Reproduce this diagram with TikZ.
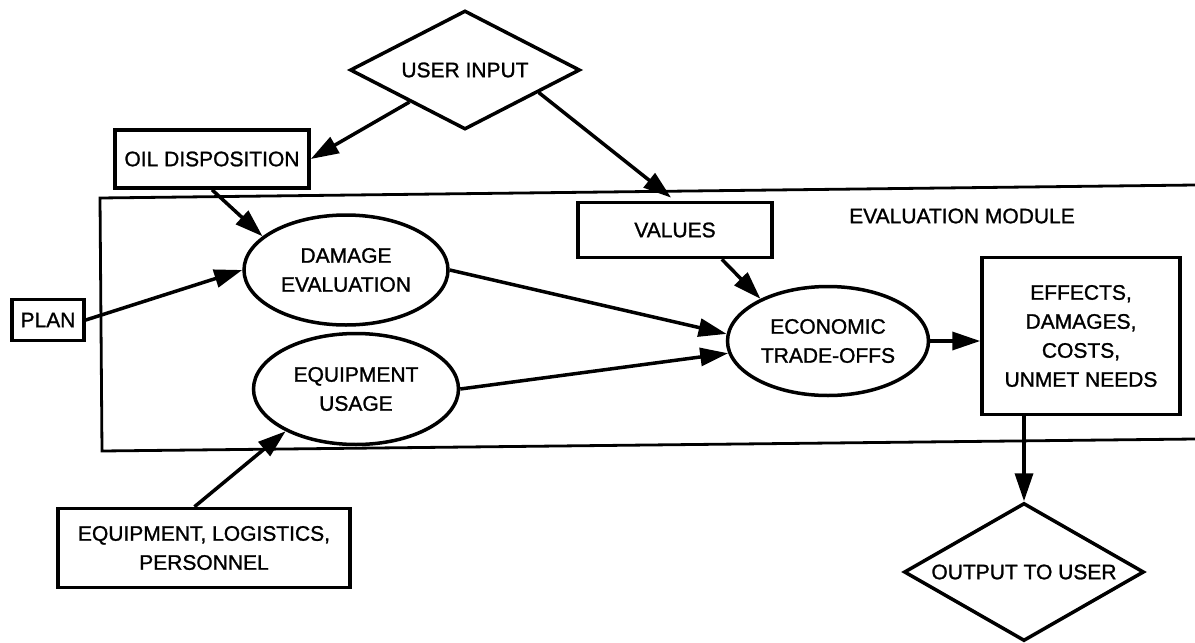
\documentclass[tikz,border=0pt]{standalone}
\usepackage{fontspec}
\setmainfont[FakeBold=1.2]{Liberation Sans}
\usepackage{tikz}
\usetikzlibrary{positioning}
\usetikzlibrary{arrows.meta}
\usetikzlibrary{shapes,calc}

\begin{document}
\begin{tikzpicture}[x=1pt,y=-1pt,
	font=\fontsize{21}{29}\selectfont,
	box/.style={draw,rectangle,line width=3.5pt,inner sep=0pt,align=center},
	oval/.style={draw,ellipse,line width=3.5pt,inner sep=0pt,align=center},
	decision/.style={draw,diamond,line width=3.5pt,inner sep=0pt,align=center}]
	\useasboundingbox (0,0) rectangle (1195,643);

	% module frame, open to the right
	\draw [line width=2.8pt] (1195,185) -- (100,198) -- (102,451) -- (1195,439);
	\node (modname) at (962,216) {EVALUATION MODULE};

	\begin{scope}[every node/.style={box}]
	    \node (oil) [minimum width=194pt, minimum height=58pt] at (212,159) {OIL DISPOSITION};
	    \node (vals) [minimum width=194pt, minimum height=55pt] at (675,230) {VALUES};
	    \node (plan) [minimum width=72pt, minimum height=41pt] at (48,320) {PLAN};
	    \node (eff) [minimum width=198pt, minimum height=157pt] at (1081,336) {EFFECTS,\\DAMAGES,\\COSTS,\\UNMET NEEDS};
	    \node (elp) [minimum width=292pt, minimum height=79pt] at (204,548) {EQUIPMENT, LOGISTICS,\\PERSONNEL};
	\end{scope}

	\begin{scope}[every node/.style={oval}]
	    \node (dmg) [minimum width=204pt, minimum height=110pt] at (346,270) {DAMAGE\\EVALUATION};
	    \node (eqp) [minimum width=205pt, minimum height=111pt] at (356,389) {EQUIPMENT\\USAGE};
	    \node (econ) [minimum width=201pt, minimum height=109pt] at (828,341) {ECONOMIC\\TRADE-OFFS};
	\end{scope}

	\begin{scope}[every node/.style={decision}]
	    \node (ui) [aspect=1.9, minimum width=230pt, minimum height=119pt] at (465,70) {USER INPUT};
	    \node (out) [aspect=1.74, minimum width=240pt, minimum height=138pt] at (1024,572) {OUTPUT TO USER};
	\end{scope}

	\begin{scope}[>={Triangle[length=28pt,width=18pt]},
	              every edge/.style={draw=black,line width=3.5pt}]
    	\path [->] (ui) edge (oil.east);
    	\path [->] (ui.-17) edge [shorten >=5pt] (vals.north);
    	\path [->] (oil.south) edge (dmg.158);
    	\path [->] (plan.east) edge (dmg.west);
    	\path [->] (vals.-32) edge (econ.148);
    	\path [->] (dmg.east) edge (econ.176);
    	\path [->] (eqp.east) edge (econ.187);
    	\path [->] (elp.103) edge (eqp.211);
    	\path [->] (econ.east) edge (econ.east -| eff.west);
    	\path [->] (out.north |- eff.south) edge (out.north);
	\end{scope}
\end{tikzpicture}
\end{document}
